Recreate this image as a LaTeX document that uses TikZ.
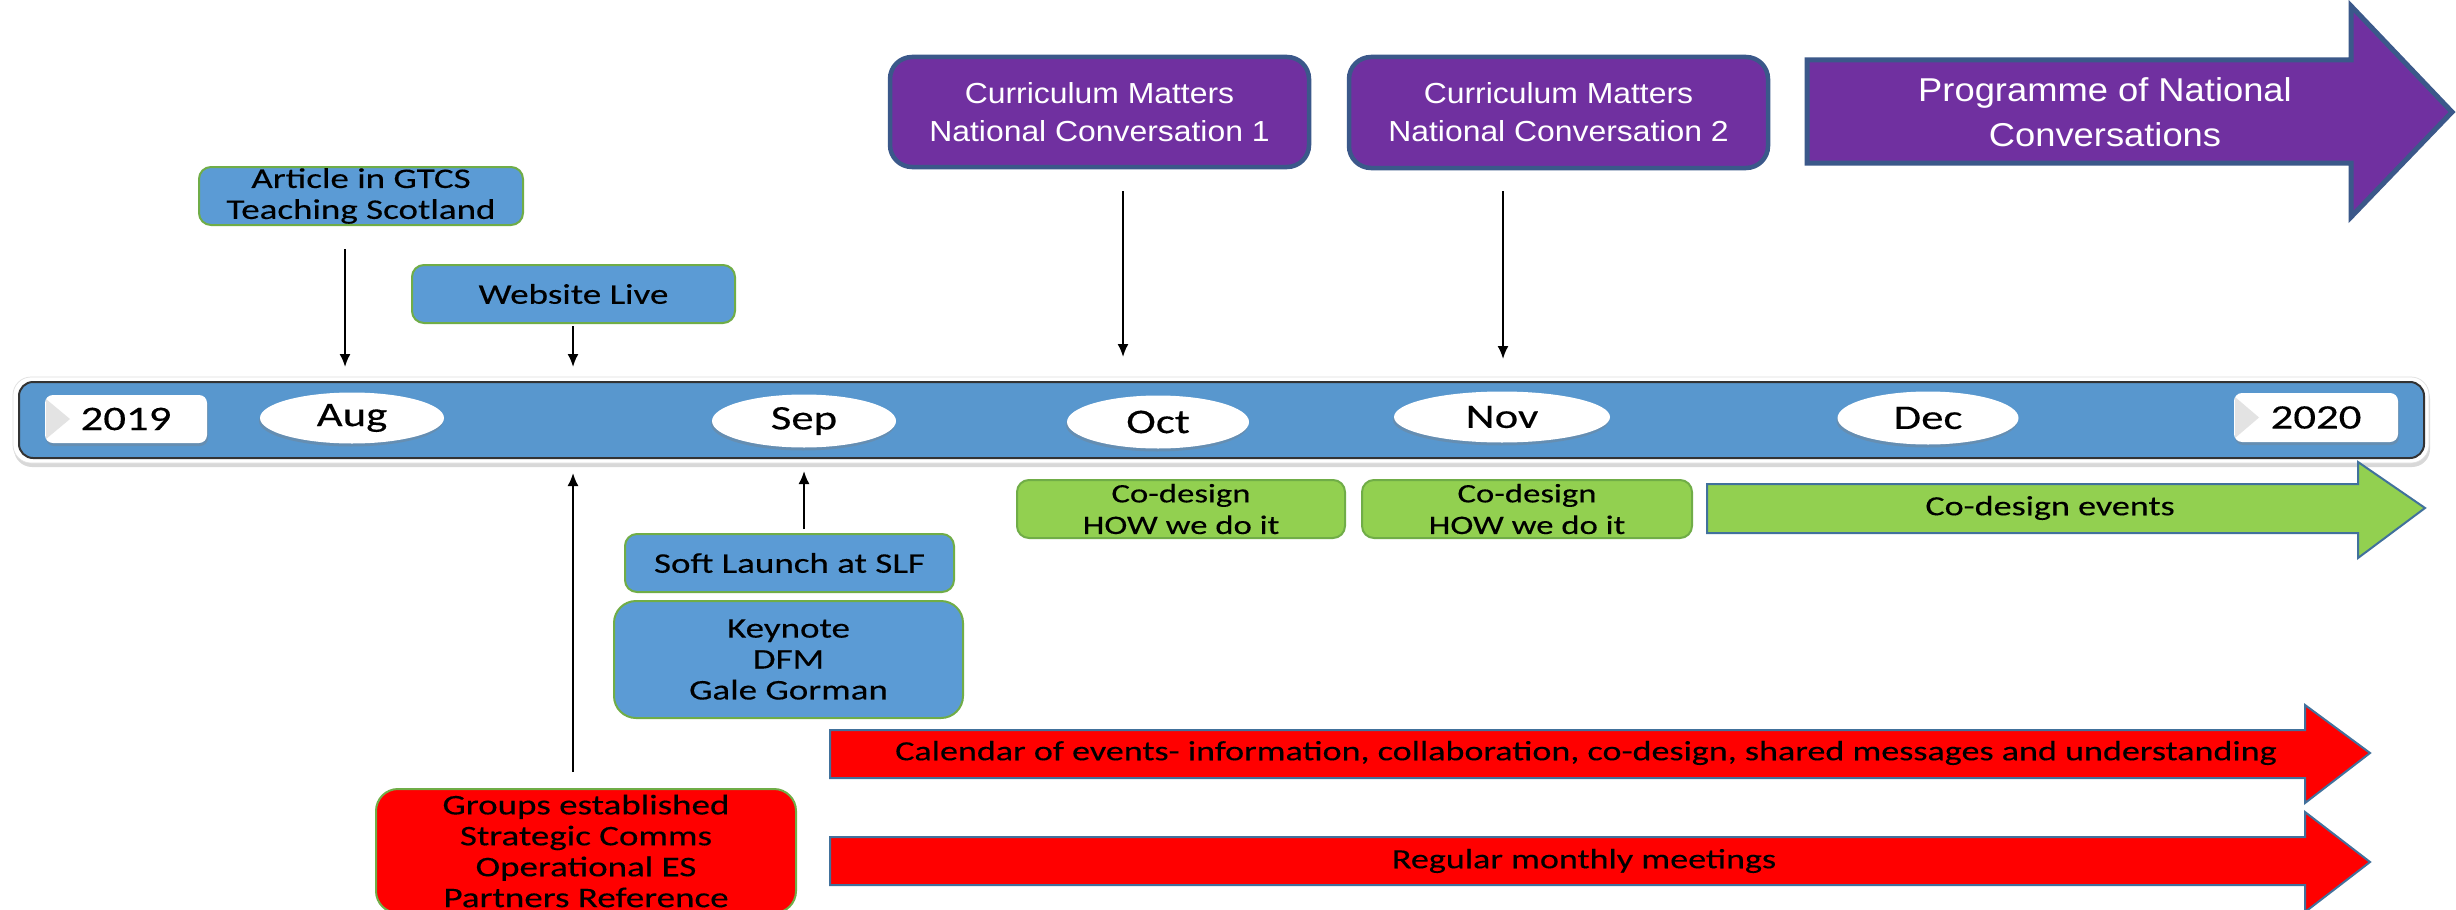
\documentclass[tikz,border=0pt]{standalone}
\usepackage{fontspec}
\usetikzlibrary{shapes.geometric,arrows.meta,shadows,calc}
\newfontfamily\calw[FakeStretch=1.3,FakeBold=0.3]{Carlito}
\newfontfamily\arw[FakeStretch=1.1]{Liberation Sans}
\newlength\pxu \setlength\pxu{0.02cm}
\definecolor{boxblue}{RGB}{91,155,213}
\definecolor{boxgreen}{RGB}{146,208,80}
\definecolor{edgegreen}{RGB}{112,173,71}
\definecolor{purp}{RGB}{112,48,160}
\definecolor{purpedge}{RGB}{59,88,138}
\definecolor{arrowedge}{RGB}{65,113,156}
\definecolor{barblue}{RGB}{88,151,206}
\tikzset{
  bluebox/.style={draw=edgegreen, fill=boxblue, line width=2\pxu, rounded corners=12\pxu, inner sep=0pt, align=center, text=black, font=\calw\fontsize{16.2}{17.6}\selectfont},
  greenbox/.style={bluebox, fill=boxgreen, font=\calw\fontsize{15.2}{18}\selectfont},
  redbox/.style={bluebox, fill=red, rounded corners=22\pxu},
  purpbox/.style={draw=purpedge, fill=purp, line width=4.5\pxu, rounded corners=22\pxu, inner sep=0pt, align=center, text=white, font=\arw\fontsize{16.5}{21.6}\selectfont},
  monthlbl/.style={ellipse, fill=white, inner sep=0pt, font=\calw\fontsize{19.6}{22}\selectfont, drop shadow={shadow xshift=-1\pxu, shadow yshift=-3\pxu, opacity=0.35}},
  yearlbl/.style={rectangle, fill=white, rounded corners=8\pxu, inner sep=0pt, drop shadow={shadow xshift=1\pxu, shadow yshift=-3\pxu, opacity=0.35}},
  yeartext/.style={font=\calw\fontsize{19.6}{22}\selectfont, inner sep=0pt},
  conn/.style={line width=2\pxu, black, -{Latex[length=7.4pt,width=6.3pt]}},
  blockred/.style={fill=red, draw=arrowedge, line width=2\pxu},
  blockgreen/.style={fill=boxgreen, draw=arrowedge, line width=2\pxu},
  blockpurp/.style={fill=purp, draw=purpedge, line width=5\pxu, line join=miter},
  blocktext/.style={font=\calw\fontsize{15.8}{17}\selectfont, inner sep=0pt}
}
\begin{document}
\begin{tikzpicture}[x=0.02cm,y=-0.02cm]
\clip (0,0) rectangle (2456,909);
\fill[white] (0,0) rectangle (2456,909);

% timeline bar
\node[draw=gray!25, fill=white, rounded corners=18\pxu, minimum width=2416\pxu, minimum height=86\pxu, inner sep=0pt,
  drop shadow={shadow xshift=1\pxu, shadow yshift=-4\pxu, opacity=0.3}] (barout) at (1221,420) {};
\node[fill=barblue, draw=black!80, line width=2\pxu, rounded corners=14\pxu, minimum width=2405\pxu, minimum height=76\pxu, inner sep=0pt] (bar) at (1221.5,420) {};

% year labels
\node[yearlbl, minimum width=162\pxu, minimum height=48\pxu] (y19) at (126,419) {};
\fill[gray!22] (46,399) -- (70,419) -- (46,439) -- cycle;
\node[yeartext] (y19t) at (126,419) {2019};
\node[yearlbl, minimum width=164\pxu, minimum height=49\pxu] (y20) at (2316,417.5) {};
\fill[gray!22] (2235,397) -- (2259,417.5) -- (2235,438) -- cycle;
\node[yeartext] (y20t) at (2316,417.5) {2020};

% months
\node[monthlbl, minimum width=184\pxu, minimum height=51\pxu] (aug) at (352,418) {Aug};
\node[monthlbl, minimum width=184\pxu, minimum height=53\pxu] (sep) at (804,421) {Sep};
\node[monthlbl, minimum width=182\pxu, minimum height=53\pxu] (oct) at (1158,422) {Oct};
\node[monthlbl, minimum width=216\pxu, minimum height=51\pxu] (nov) at (1502,417) {Nov};
\node[monthlbl, minimum width=181\pxu, minimum height=53\pxu] (dec) at (1928,418) {Dec};

% upper boxes
\node[bluebox, minimum width=324\pxu, minimum height=58\pxu] (art) at (361,196) {Article in GTCS\\Teaching Scotland};
\node[bluebox, minimum width=323\pxu, minimum height=58\pxu] (web) at (573.5,294) {Website Live};
\node[purpbox, minimum width=419\pxu, minimum height=110\pxu] (nc1) at (1099.5,112) {Curriculum Matters\\National Conversation 1};
\node[purpbox, minimum width=419\pxu, minimum height=111\pxu] (nc2) at (1558.5,112.5) {Curriculum Matters\\National Conversation 2};

% programme arrow
\draw[blockpurp] (1807,60) -- (2351,60) -- (2351,6) -- (2452,112) -- (2351,217) -- (2351,163) -- (1807,163) -- cycle;
\node[text=white, align=center, inner sep=0pt, font=\arw\fontsize{18.8}{25.6}\selectfont] (prog) at (2105,112) {Programme of National\\Conversations};

% lower boxes
\node[greenbox, minimum width=328\pxu, minimum height=58\pxu] (cd1) at (1181,509) {Co-design\\HOW we do it};
\node[greenbox, minimum width=330\pxu, minimum height=58\pxu] (cd2) at (1527,509) {Co-design\\HOW we do it};
\draw[blockgreen] (1707,484) -- (2358,484) -- (2358,462) -- (2425,508) -- (2358,558) -- (2358,533) -- (1707,533) -- cycle;
\node[blocktext] (cdev) at (2050,508) {Co-design events};

\node[bluebox, minimum width=329\pxu, minimum height=58\pxu] (soft) at (789.5,563) {Soft Launch at SLF};
\node[bluebox, rounded corners=22\pxu, minimum width=349\pxu, minimum height=117\pxu] (key) at (788.5,659.5) {Keynote\\DFM\\Gale Gorman};
\node[redbox, minimum width=420\pxu, minimum height=124\pxu] (grp) at (586,851) {Groups established\\Strategic Comms\\Operational ES\\Partners Reference};

% red block arrows
\draw[blockred] (830,730) -- (2305,730) -- (2305,705) -- (2370,753) -- (2305,803) -- (2305,778) -- (830,778) -- cycle;
\node[blocktext] (cal) at (1586,753) {Calendar of events- information, collaboration, co-design, shared messages and understanding};
\draw[blockred] (830,837) -- (2305,837) -- (2305,812) -- (2370,862) -- (2305,912) -- (2305,885) -- (830,885) -- cycle;
\node[blocktext] (reg) at (1584,861) {Regular monthly meetings};

% connectors
\coordinate (artA) at (345,249); \coordinate (artB) at (345,367);
\coordinate (webA) at (573,326); \coordinate (webB) at (573,367);
\coordinate (nc1A) at (1123,191); \coordinate (nc1B) at (1123,357);
\coordinate (nc2A) at (1503,191); \coordinate (nc2B) at (1503,359);
\coordinate (softA) at (804,529); \coordinate (softB) at (804,471);
\coordinate (grpA) at (573,772); \coordinate (grpB) at (573,473);
\draw[conn] (artA) -- (artB);
\draw[conn] (webA) -- (webB);
\draw[conn] (nc1A) -- (nc1B);
\draw[conn] (nc2A) -- (nc2B);
\draw[conn] (softA) -- (softB);
\draw[conn] (grpA) -- (grpB);
\end{tikzpicture}
\end{document}
